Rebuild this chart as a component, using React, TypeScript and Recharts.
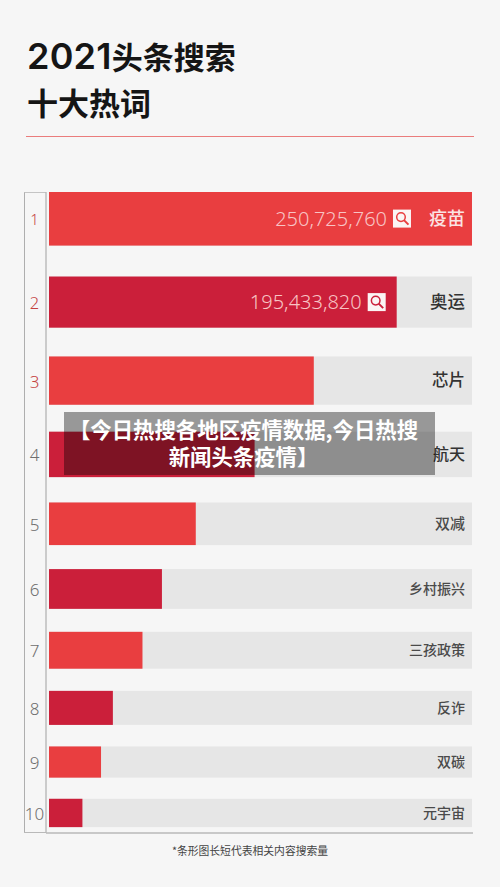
import React from "react";
import { BarChart, Bar, XAxis, YAxis } from "recharts";

const ranks = [1, 2, 3, 4, 5, 6, 7, 8, 9, 10];
const words = ["疫苗", "奥运", "芯片", "航天", "双减", "乡村振兴", "三孩政策", "反诈", "双碳", "元宇宙"];
// bar length as a percentage of the longest bar
const lengths = [100, 82.2, 62.6, 48.6, 34.7, 26.7, 22.1, 15.1, 12.3, 7.9];
const volumeLabels = ["250,725,760", "195,433,820", "", "", "", "", "", "", "", ""];
const wordSizes = [18, 17.5, 16.5, 16, 15, 14, 14, 14, 14, 14];
const rankSizes = [15, 16.5, 17, 17, 17, 17, 17, 17, 17, 17];

const data = ranks.map((rank, i) => ({
  rank,
  word: words[i],
  length: lengths[i],
  volume: volumeLabels[i],
  wordSize: wordSizes[i],
  rankSize: rankSizes[i],
}));

const FONT = '"Noto Sans CJK SC", "Noto Sans", sans-serif';
const RED = "#e93e40";
const CRIMSON = "#cb1f3a";
const TRACK = "#e6e6e6";
const BG = "#f6f6f6";

// Rows get tighter down the chart: a geometric warp of the rank axis.
const Q = 0.94;
function makeRowScale(dom: number[] = [0.689, 10.402], rng: number[] = [0, 1]): any {
  let d = dom;
  let r = rng;
  const s: any = (v: number) => {
    const t = (1 - Math.pow(Q, v - d[0])) / (1 - Math.pow(Q, d[1] - d[0]));
    const lo = Math.min(r[0], r[1]);
    const hi = Math.max(r[0], r[1]);
    return lo + t * (hi - lo);
  };
  s.domain = (x?: number[]) => (x ? ((d = x), s) : d);
  s.range = (x?: number[]) => (x ? ((r = x), s) : r);
  s.copy = () => makeRowScale(d, r);
  s.ticks = () => ranks;
  return s;
}

const Magnifier = ({ x, y, color }: { x: number; y: number; color: string }) => (
  <g>
    <rect x={x} y={y} width={18} height={18} fill="#fbf4f4" />
    <circle cx={x + 8} cy={y + 7.5} r={4.3} fill="none" stroke={color} strokeWidth={1.5} />
    <line x1={x + 11} y1={y + 10.5} x2={x + 15.5} y2={y + 15} stroke={color} strokeWidth={2} />
  </g>
);

const RowShape = (props: any) => {
  const { x, y, width, height, payload } = props;
  const i = payload.rank - 1;
  const h = 54 - 2.85 * i;
  const top = y + height / 2 - h / 2;
  const fill = i % 2 === 0 ? RED : CRIMSON;
  const trackWidth = (width * 100) / payload.length;
  const trackEnd = x + trackWidth;
  const iconRight = Math.min(x + width - 11, trackEnd - 61);
  const midY = top + h / 2;
  return (
    <g>
      <rect x={x} y={top} width={trackWidth} height={h} fill={TRACK} />
      <rect x={x} y={top} width={width} height={h} fill={fill} />
      {payload.volume ? (
        <g>
          <text
            x={iconRight - 24}
            y={midY}
            dy="0.35em"
            textAnchor="end"
            fontFamily='"Noto Sans", sans-serif'
            fontWeight={300}
            fontSize={20}
            fill="#f8c4c4"
          >
            {payload.volume}
          </text>
          <Magnifier x={iconRight - 18} y={midY - 9} color={fill} />
        </g>
      ) : null}
      <text
        x={trackEnd - 7}
        y={midY}
        dy="0.35em"
        textAnchor="end"
        fontFamily={FONT}
        fontWeight={500}
        fontSize={payload.wordSize}
        fill={i === 0 ? "#fbe3e3" : i < 4 ? "#333" : "#4a4a4a"}
      >
        {payload.word}
      </text>
    </g>
  );
};

const RankTick = (props: any) => {
  const { y, payload } = props;
  const row = data[payload.value - 1];
  if (!row) return null;
  return (
    <text
      x={34.5}
      y={y + 0.5}
      dy="0.36em"
      textAnchor="middle"
      fontFamily='"Noto Sans", sans-serif'
      fontWeight={300}
      fontSize={row.rankSize}
      fill={row.rank <= 3 ? "#c4423f" : "#6e6e6e"}
    >
      {row.rank}
    </text>
  );
};

export default function App() {
  return (
    <div
      style={{
        position: "absolute",
        left: 0,
        top: 0,
        width: 500,
        height: 887,
        background: BG,
        overflow: "hidden",
        fontFamily: FONT,
      }}
    >
      <div
        style={{
          position: "absolute",
          left: 27,
          top: 33,
          fontSize: 31,
          lineHeight: "46px",
          fontWeight: 700,
          color: "#151515",
          whiteSpace: "nowrap",
        }}
      >
        <span style={{ fontFamily: 'Inter, "Noto Sans", sans-serif', fontSize: 36, fontWeight: 600, letterSpacing: 0.2, lineHeight: "30px" }}>2021</span>
        头条搜索
        <br />
        十大热词
      </div>
      <div style={{ position: "absolute", left: 26, top: 136, width: 448, height: 1, background: "#ea7c7c" }} />
      <div
        style={{
          position: "absolute",
          left: 24,
          top: 192,
          width: 22,
          height: 641,
          borderLeft: "1px solid #aeaeae",
          borderTop: "1px solid #c4c4c4",
          boxSizing: "border-box",
        }}
      />
      <div style={{ position: "absolute", left: 0, top: 0 }}>
        <BarChart
          width={500}
          height={887}
          data={data}
          layout="vertical"
          margin={{ top: 192, right: 27, bottom: 53, left: 0 }}
        >
          <XAxis
            type="number"
            dataKey="length"
            domain={[-0.71, 100.24]}
            allowDataOverflow
            ticks={[0, 100]}
            tick={false}
            tickLine={false}
            height={1}
            axisLine={{ stroke: "#b9b9b9", strokeWidth: 1.4 }}
          />
          <YAxis
            type="number"
            dataKey="rank"
            width={46}
            scale={makeRowScale()}
            domain={[0.689, 10.402]}
            allowDataOverflow
            ticks={ranks}
            interval={0}
            tick={<RankTick />}
            tickLine={false}
            axisLine={{ stroke: "#b9b9b9", strokeWidth: 1.4 }}
          />
          <Bar dataKey="length" barSize={20} isAnimationActive={false} shape={<RowShape />} />
        </BarChart>
      </div>
      <div
        style={{
          position: "absolute",
          left: 24,
          top: 832,
          width: 22,
          height: 1,
          background: "#b9b9b9",
        }}
      />
      <div
        style={{
          position: "absolute",
          left: 0,
          width: 500,
          top: 843,
          textAlign: "center",
          fontSize: 10.8,
          lineHeight: "14px",
          color: "#444",
        }}
      >
        *条形图长短代表相关内容搜索量
      </div>
      <div
        style={{
          position: "absolute",
          left: 64,
          top: 412,
          width: 371,
          height: 63,
          background: "rgba(0,0,0,0.38)",
          color: "#fff",
          fontSize: 21.4,
          lineHeight: "27px",
          fontWeight: 700,
          textAlign: "center",
          padding: "3px 5px",
          boxSizing: "border-box",
        }}
      >
        <div style={{ position: "relative", left: -6 }}>【今日热搜各地区疫情数据,今日热搜新闻头条疫情】</div>
      </div>
    </div>
  );
}
